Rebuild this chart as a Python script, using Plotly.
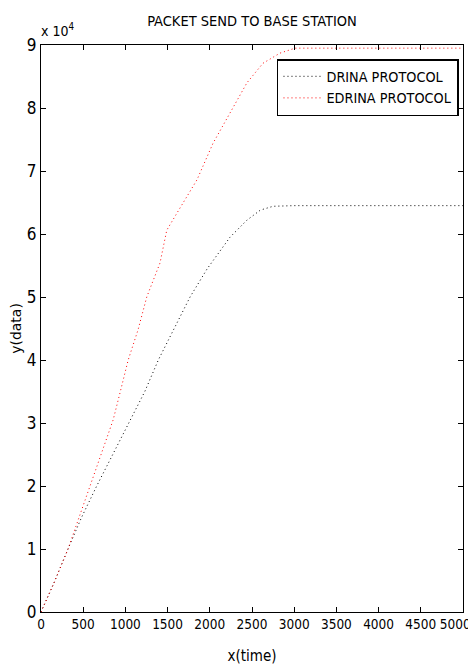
import plotly.graph_objects as go

# ---- data ----
x_drina = [0, 150, 320, 480, 660, 850, 1064, 1230, 1390, 1580, 1766, 1970, 2240, 2440, 2600, 2750, 3000, 3500, 4000, 4500, 5000]
y_drina = [0, 4500, 10000, 15000, 20000, 25000, 30500, 35000, 40000, 45000, 50000, 54500, 59500, 62200, 63800, 64400, 64500, 64500, 64500, 64500, 64500]

x_edrina = [0, 150, 320, 450, 580, 700, 818, 855, 940, 1033, 1150, 1253, 1410, 1490, 1610, 1848, 2038, 2240, 2440, 2630, 2830, 3010, 3500, 4000, 4500, 5000]
y_edrina = [0, 4500, 10000, 15000, 20000, 24500, 28900, 30500, 35000, 40000, 44800, 50000, 55400, 60600, 63300, 68600, 74400, 79200, 84000, 87100, 88700, 89500, 89500, 89500, 89500, 89500]

x_ticks = [0, 500, 1000, 1500, 2000, 2500, 3000, 3500, 4000, 4500, 5000]
# trailing non-breaking spaces pull the last label inside the visible window
x_tick_labels = ["0", "500", "1000", "1500", "2000", "2500", "3000", "3500", "4000", "4500",
                 "5000&nbsp;&nbsp;&nbsp;&nbsp;"]
y_ticks = [0, 10000, 20000, 30000, 40000, 50000, 60000, 70000, 80000, 90000]
y_tick_labels = ["0", "1", "2", "3", "4", "5", "6", "7", "8", "9"]

series_names = ["DRINA PROTOCOL", "EDRINA PROTOCOL"]
title_text = "PACKET SEND TO BASE STATION"

FONT = "Liberation Sans Narrow, Arial Narrow, DejaVu Sans Condensed, sans-serif"

# the page body adds an 8px offset; margins compensate so the plot box sits at
# x 41..463, y 45..612 of the 476x670 window
W, H = 476, 670
OFF = 8
L, T = 41 - OFF, 45 - OFF
R = W + OFF - 463
B = H + OFF - 612

fig = go.Figure()
fig.add_trace(go.Scatter(x=x_drina, y=y_drina, mode="lines", name=series_names[0],
                         line=dict(color="black", width=1, dash="1px,3px")))
fig.add_trace(go.Scatter(x=x_edrina, y=y_edrina, mode="lines", name=series_names[1],
                         line=dict(color="red", width=1, dash="1px,3px")))

axis_common = dict(showgrid=False, zeroline=False, showline=True, linecolor="black",
                   linewidth=1, mirror="ticks", ticks="inside", ticklen=5,
                   tickcolor="black", automargin=False, tickangle=0)

fig.update_layout(
    width=W, height=H,
    margin=dict(l=L, r=R, t=T, b=B, autoexpand=False),
    paper_bgcolor="white", plot_bgcolor="white",
    title=dict(text=title_text, x=(252 - OFF) / W, xanchor="center",
               y=1 - (21 - OFF) / H, yanchor="middle",
               font=dict(family=FONT, size=14.5, color="black")),
    xaxis=dict(range=[0, 5000], tickvals=x_ticks, ticktext=x_tick_labels,
               tickfont=dict(family=FONT, size=13.5, color="black"),
               ticklabeloverflow="allow",
               title=dict(text="x(time)", font=dict(family=FONT, size=15, color="black"), standoff=19),
               **axis_common),
    yaxis=dict(range=[0, 90000], tickvals=y_ticks, ticktext=y_tick_labels,
               tickfont=dict(family=FONT, size=17, color="black"),
               title=dict(text="y(data)", font=dict(family="DejaVu Sans, sans-serif", size=14, color="black"), standoff=5),
               **axis_common),
    legend=dict(x=0.9905, xanchor="right", y=0.9753, yanchor="top",
                bgcolor="white", bordercolor="black", borderwidth=1.5,
                font=dict(family=FONT, size=14.3, color="black"),
                tracegroupgap=0, itemwidth=38),
    showlegend=True,
    annotations=[dict(text="x 10<sup>4</sup>", xref="paper", yref="paper",
                      x=0, y=1, xanchor="left", yanchor="bottom", yshift=4, xshift=-2,
                      showarrow=False, font=dict(family=FONT, size=14, color="black"))],
)

fig.write_html("out.html")
